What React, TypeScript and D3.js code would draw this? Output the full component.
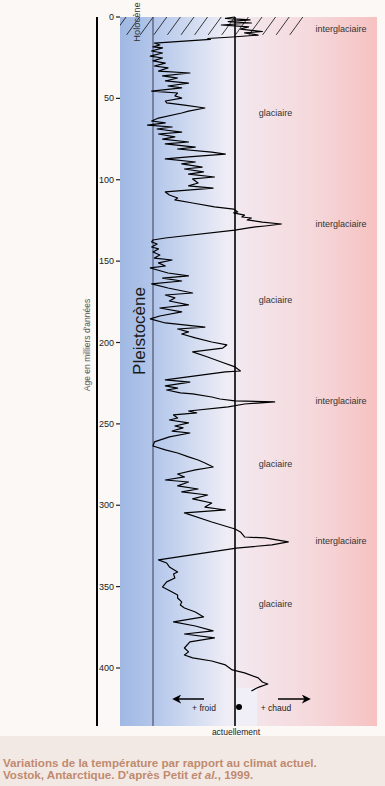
import { useRef, useEffect } from "react";
import * as d3 from "d3";

// age in thousands of years (ka), temperature anomaly vs today (°C)
const ages = [
  0, 0.9, 1.8, 2.8, 3.7, 4.9, 6.1, 7.4, 8.9, 9.8, 11.1, 12.3, 13.2, 13.8, 16.0,
  17.2, 18.4, 19.0, 20.9, 22.1, 24.0, 25.2, 27.0, 28.3, 30.1, 31.3, 33.2, 34.4, 36.2, 37.5,
  39.3, 40.6, 42.4, 43.6, 45.5, 46.7, 48.5, 49.8, 51.6, 52.8, 54.1, 55.9, 57.8, 59.0, 62.1,
  63.9, 65.1, 66.4, 67.6, 68.8, 70.7, 71.9, 73.7, 75.0, 76.8, 78.0, 79.9, 81.1, 83.0, 84.2,
  86.0, 87.2, 89.1, 90.3, 92.2, 93.4, 95.2, 96.5, 98.3, 99.5, 102.0, 103.8, 105.1, 107.5, 109.4,
  111.2, 112.4, 114.3, 116.7, 118.0, 119.8, 120.4, 121.7, 122.9, 123.5, 124.7, 126.0, 127.2, 128.4, 129.0,
  129.6, 130.9, 135.8, 137.0, 138.2, 139.5, 141.3, 142.5, 144.4, 146.2, 148.1, 149.3, 151.1, 153.0, 154.2,
  157.3, 159.1, 160.4, 162.2, 164.0, 166.5, 169.6, 170.8, 172.6, 174.5, 176.9, 178.8, 181.2, 183.7, 185.5,
  188.0, 190.5, 191.7, 193.5, 194.8, 197.2, 199.7, 201.5, 203.4, 205.8, 208.9, 212.0, 215.0, 216.3, 217.5,
  218.1, 223.0, 224.3, 226.7, 228.0, 229.2, 231.0, 231.6, 233.5, 234.7, 235.9, 236.5, 237.8, 239.6, 242.1,
  243.3, 244.5, 246.4, 247.6, 249.4, 251.3, 252.5, 254.4, 255.6, 258.0, 261.1, 263.6, 266.0, 267.9, 270.3,
  272.2, 274.0, 276.5, 278.3, 280.8, 282.6, 284.5, 285.7, 288.1, 290.0, 291.8, 293.7, 296.1, 298.6, 301.1,
  302.9, 304.7, 310.3, 314.6, 316.4, 319.5, 320.1, 322.5, 324.4, 326.3, 333.6, 335.5, 337.9, 341.0, 342.2,
  344.7, 347.1, 350.2, 353.3, 355.1, 357.0, 359.4, 361.3, 363.1, 365.6, 368.6, 371.7, 374.2, 377.2, 379.1,
  381.5, 384.0, 387.7, 390.1, 392.0, 393.8, 395.7, 398.1, 401.2, 403.0, 406.1, 408.6, 409.8, 411.6, 412.3,
  414.1,
];
const temps = [
  0, -0.7, 1.1, -0.5, 1.2, -1.0, 1.0, 0.4, 2.0, 0.7, 1.7, -0.2, -2.0, -1.8, -5.9,
  -5.5, -6.0, -5.3, -6.1, -5.3, -6.2, -5.3, -6.0, -5.1, -5.9, -4.9, -5.6, -3.3, -5.3, -4.2,
  -5.1, -3.4, -4.9, -3.9, -6.1, -4.2, -4.4, -3.9, -5.1, -5.0, -3.7, -2.2, -3.4, -3.9, -5.6,
  -6.1, -5.1, -6.4, -4.6, -5.7, -3.9, -5.6, -4.4, -5.3, -3.4, -5.1, -2.9, -4.2, -1.7, -0.7,
  -3.4, -5.1, -2.9, -3.9, -2.4, -3.7, -2.3, -3.4, -1.5, -3.1, -2.7, -3.4, -1.6, -5.1, -4.8,
  -4.2, -4.4, -3.1, -1.5, -0.1, 0.2, -0.1, 0.7, 0.5, 1.2, 0.9, 2.0, 3.4, 2.2, 1.5,
  1.0, 0.0, -5.1, -6.0, -6.1, -5.7, -6.1, -5.6, -6.0, -5.5, -5.9, -4.6, -5.6, -5.1, -6.2,
  -4.9, -3.4, -5.3, -3.9, -6.1, -4.9, -3.1, -5.1, -4.4, -4.8, -3.4, -5.5, -3.9, -5.5, -6.2,
  -5.1, -2.2, -4.2, -3.4, -3.9, -2.9, -1.7, -0.6, -0.9, -3.1, -2.0, -1.0, 0.0, 0.2, 0.4,
  -0.7, -5.1, -3.3, -5.1, -4.2, -5.0, -4.0, -3.1, -1.7, -1.1, 0.0, 2.9, 0.7, -0.5, -3.4,
  -2.8, -4.5, -4.2, -4.8, -3.4, -4.4, -3.8, -4.6, -3.3, -4.8, -5.9, -6.0, -5.1, -4.2, -3.4,
  -2.7, -2.2, -1.6, -2.9, -4.2, -3.7, -5.1, -3.4, -4.2, -2.7, -3.9, -2.0, -3.1, -1.7, -2.2,
  -0.7, -3.7, -1.7, 0.0, 0.4, 0.7, 2.2, 3.9, 2.7, 0.1, -5.6, -5.0, -4.8, -4.2, -4.5,
  -4.4, -5.0, -5.3, -4.6, -4.2, -4.2, -3.9, -4.0, -3.7, -2.9, -2.3, -4.5, -2.9, -1.6, -3.7,
  -1.5, -3.3, -3.7, -3.4, -3.7, -3.1, -1.7, -0.7, -0.2, 0.7, 1.7, 2.0, 2.4, 1.8, 1.6,
  1.2,
];

const ageTicks = [0, 50, 100, 150, 200, 250, 300, 350, 400];
const periodAges = [7.4, 59, 127.2, 173.9, 235.9, 274.6, 322, 360.7];
const periodNames = [
  "interglaciaire", "glaciaire", "interglaciaire", "glaciaire",
  "interglaciaire", "glaciaire", "interglaciaire", "glaciaire",
];
const holoceneEnd = 11;
const coldLine = -6;

const FONT = "'Liberation Sans', Arial, sans-serif";

export default function App() {
  const refEl = useRef<SVGSVGElement | null>(null);

  useEffect(() => {
    if (!refEl.current) return;
    const svg = d3.select(refEl.current);
    svg.selectAll("*").remove();

    const W = 385, H = 786;
    const left = 120, right = 377, top = 17, bottom = 726;

    const y = d3.scaleLinear().domain([0, 400]).range([17, 668]);
    const x = d3.scaleLinear().domain([coldLine, 0]).range([153, 235]);

    // page bg + caption band
    svg.append("rect").attr("width", W).attr("height", H).attr("fill", "#fbf8f5");
    svg.append("rect").attr("y", 736).attr("width", W).attr("height", H - 736).attr("fill", "#f3e9e4");

    const defs = svg.append("defs");
    const g1 = defs.append("linearGradient").attr("id", "strip").attr("x1", 0).attr("x2", 1).attr("y1", 0).attr("y2", 0);
    g1.append("stop").attr("offset", "0%").attr("stop-color", "#9fb8e3");
    g1.append("stop").attr("offset", "100%").attr("stop-color", "#b3c6ea");
    const g2 = defs.append("linearGradient").attr("id", "main").attr("x1", 0).attr("x2", 1).attr("y1", 0).attr("y2", 0);
    g2.append("stop").attr("offset", "0%").attr("stop-color", "#b2c5ea");
    g2.append("stop").attr("offset", "18%").attr("stop-color", "#d2dcf1");
    g2.append("stop").attr("offset", "33%").attr("stop-color", "#efedf6");
    g2.append("stop").attr("offset", "40%").attr("stop-color", "#f3e7ed");
    g2.append("stop").attr("offset", "70%").attr("stop-color", "#f5d9dc");
    g2.append("stop").attr("offset", "100%").attr("stop-color", "#f7c1c1");

    const x0 = x(coldLine), xNow = x(0);
    svg.append("rect").attr("x", left).attr("y", top).attr("width", x0 - left).attr("height", bottom - top).attr("fill", "url(#strip)");
    svg.append("rect").attr("x", x0).attr("y", top).attr("width", right - x0).attr("height", bottom - top).attr("fill", "url(#main)");
    // light patch right of the present-day line, under the curve end
    svg.append("rect").attr("x", xNow).attr("y", 688).attr("width", 22).attr("height", bottom - 688).attr("fill", "#f0eff7");

    // holocene hatching
    const yH = y(holoceneEnd);
    defs.append("clipPath").attr("id", "hclip").append("rect")
      .attr("x", left).attr("y", top).attr("width", 185).attr("height", yH - top);
    const hatch = svg.append("g").attr("clip-path", "url(#hclip)");
    d3.range(14).forEach(k => {
      const tx = 126 + 13.6 * k;
      hatch.append("line").attr("x1", tx).attr("y1", top).attr("x2", tx - 13).attr("y2", yH)
        .attr("stroke", "#222").attr("stroke-width", 0.9);
    });

    // reference lines
    svg.append("line").attr("x1", x0).attr("x2", x0).attr("y1", top).attr("y2", bottom)
      .attr("stroke", "#3a3d55").attr("stroke-width", 1);
    svg.append("line").attr("x1", xNow).attr("x2", xNow).attr("y1", top).attr("y2", bottom)
      .attr("stroke", "#000").attr("stroke-width", 1.6);

    // curve
    const pts = ages.map((a, i) => [a, temps[i]] as [number, number]);
    const line = d3.line<[number, number]>().x(d => x(d[1])).y(d => y(d[0]));
    svg.append("path").datum(pts).attr("d", line as any).attr("fill", "none")
      .attr("stroke", "#000").attr("stroke-width", 1.2).attr("stroke-linejoin", "round");

    // left axis
    svg.append("line").attr("x1", 97).attr("x2", 97).attr("y1", top).attr("y2", bottom)
      .attr("stroke", "#000").attr("stroke-width", 2);
    const ax = svg.append("g");
    ageTicks.forEach(t => {
      ax.append("line").attr("x1", 116).attr("x2", 120).attr("y1", y(t)).attr("y2", y(t)).attr("stroke", "#222").attr("stroke-width", 1.2);
      ax.append("text").attr("x", 114).attr("y", y(t) + 3).attr("text-anchor", "end")
        .attr("font-family", FONT).attr("font-size", 9).attr("fill", "#222").text(String(t));
    });
    svg.append("text").attr("transform", `translate(90,345) rotate(-90)`).attr("text-anchor", "middle")
      .attr("font-family", FONT).attr("font-size", 8.5).attr("fill", "#555").text("Age en milliers d'années");

    // epoch labels
    svg.append("text").attr("transform", `translate(140,22) rotate(-90)`).attr("text-anchor", "middle")
      .attr("font-family", FONT).attr("font-size", 9.3).attr("fill", "#333").text("Holocène");
    svg.append("text").attr("transform", `translate(145,331) rotate(-90)`).attr("text-anchor", "middle")
      .attr("font-family", FONT).attr("font-size", 17).attr("fill", "#1a1a1a").text("Pleistocène");

    // period labels
    periodAges.forEach((a, i) => {
      const inter = periodNames[i] === "interglaciaire";
      svg.append("text").attr("x", inter ? 341 : 275.5).attr("y", y(a) + 3).attr("text-anchor", "middle")
        .attr("font-family", FONT).attr("font-size", 9).attr("fill", "#333").text(periodNames[i]);
    });

    // bottom arrows
    const arrowY = 699;
    defs.append("marker").attr("id", "ah").attr("viewBox", "0 0 10 10").attr("refX", 8).attr("refY", 5)
      .attr("markerWidth", 6).attr("markerHeight", 6).attr("orient", "auto-start-reverse")
      .append("path").attr("d", "M0,0 L10,5 L0,10 L3,5 Z").attr("fill", "#000");
    svg.append("line").attr("x1", 204).attr("x2", 174).attr("y1", arrowY).attr("y2", arrowY)
      .attr("stroke", "#000").attr("stroke-width", 1.5).attr("marker-end", "url(#ah)");
    svg.append("line").attr("x1", 278).attr("x2", 309).attr("y1", arrowY).attr("y2", arrowY)
      .attr("stroke", "#000").attr("stroke-width", 1.5).attr("marker-end", "url(#ah)");
    svg.append("text").attr("x", 204).attr("y", 711).attr("text-anchor", "middle")
      .attr("font-family", FONT).attr("font-size", 8.5).attr("fill", "#222").text("+ froid");
    svg.append("text").attr("x", 276).attr("y", 711).attr("text-anchor", "middle")
      .attr("font-family", FONT).attr("font-size", 8.5).attr("fill", "#222").text("+ chaud");
    svg.append("circle").attr("cx", 239).attr("cy", 707).attr("r", 3).attr("fill", "#000");
    svg.append("text").attr("x", 236).attr("y", 735).attr("text-anchor", "middle")
      .attr("font-family", FONT).attr("font-size", 8.5).attr("fill", "#222").text("actuellement");

    // caption
    const cap = svg.append("g").attr("font-family", FONT).attr("font-weight", "bold").attr("font-size", 11.6).attr("fill", "#c08a70");
    cap.append("text").attr("x", 3).attr("y", 767).text("Variations de la température par rapport au climat actuel.");
    const t2 = cap.append("text").attr("x", 3).attr("y", 779);
    t2.append("tspan").text("Vostok, Antarctique. D'après Petit ");
    t2.append("tspan").attr("font-style", "italic").text("et al.");
    t2.append("tspan").text(", 1999.");

    return () => { svg.selectAll("*").remove(); };
  }, []);

  return (
    <svg ref={refEl} width={385} height={786}
      style={{ position: "absolute", left: 0, top: 0, display: "block" }} />
  );
}
